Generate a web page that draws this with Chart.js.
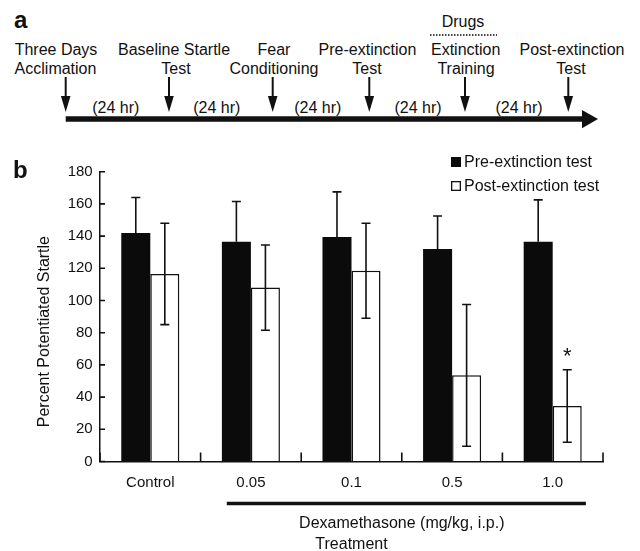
<!DOCTYPE html>
<html>
<head>
<meta charset="utf-8">
<title>Dexamethasone and fear extinction</title>
<script src="https://cdn.jsdelivr.net/npm/chart.js@4.4.1/dist/chart.umd.min.js"></script>
<style>
  html, body { margin: 0; padding: 0; width: 640px; height: 551px; overflow: hidden; background: #fff; }
  #timeline { position: absolute; left: 0; top: 0; }
  #wrap { position: absolute; left: 0; top: 140px; width: 640px; height: 420px; }
</style>
</head>
<body>
<svg id="timeline" width="640" height="140" xmlns="http://www.w3.org/2000/svg"></svg>
<div id="wrap"><canvas id="chart"></canvas></div>
<script>
// ---- panel b data ----
const categories = ['Control', '0.05', '0.1', '0.5', '1.0'];
const preValues = [142, 136.5, 139.5, 132, 136.5];
const preErrors = [22, 25, 28, 20.5, 26];
const postValues = [116.5, 108, 118.5, 53.5, 34.5];
const postErrors = [31.5, 26.5, 29.5, 44, 22.5];
const significant = [false, false, false, false, true];
const yTickValues = [0, 20, 40, 60, 80, 100, 120, 140, 160, 180];

// ---- panel a text ----
const stepTop = ['Three Days', 'Baseline Startle', 'Fear', 'Pre-extinction', 'Extinction', 'Post-extinction'];
const stepBottom = ['Acclimation', 'Test', 'Conditioning', 'Test', 'Training', 'Test'];
const intervalLabels = ['(24 hr)', '(24 hr)', '(24 hr)', '(24 hr)', '(24 hr)'];

// timeline layout (pixels)
const arrowX = [65.7, 169, 272.7, 369.3, 465, 568.3];
const topTextX = [56, 174, 274, 367.5, 465.7, 572];
const bottomTextX = [55.5, 176, 274, 367, 466, 571];
const intervalX = [115.8, 216.8, 317.8, 418, 519];

const FONT = "'Liberation Sans', Arial, Helvetica, sans-serif";
const INK = '#111';

// ---- draw panel a ----
const svg = document.getElementById('timeline');
const NS = 'http://www.w3.org/2000/svg';
function el(name, attrs, text) {
  const node = document.createElementNS(NS, name);
  Object.entries(attrs).forEach(([k, v]) => node.setAttribute(k, v));
  if (text !== undefined) node.textContent = text;
  svg.appendChild(node);
  return node;
}
function label(x, y, text, size, weight, anchor) {
  return el('text', {
    x, y, 'font-family': FONT, 'font-size': size, 'font-weight': weight || 'normal',
    'text-anchor': anchor || 'middle', fill: INK
  }, text);
}

label(14, 28, 'a', 24, 'bold', 'start');
label(463, 26.5, 'Drugs', 16);
el('line', { x1: 430, y1: 35, x2: 497, y2: 35, stroke: '#444', 'stroke-width': 2, 'stroke-dasharray': '1.5 1.5' });

stepTop.forEach((t, i) => label(topTextX[i], 54.5, t, 16));
stepBottom.forEach((t, i) => label(bottomTextX[i], 73.5, t, 16));
intervalLabels.forEach((t, i) => label(intervalX[i], 112.5, t, 16));

arrowX.forEach(x => {
  el('line', { x1: x, y1: 77, x2: x, y2: 99, stroke: INK, 'stroke-width': 2 });
  el('polygon', { points: `${x - 4.8},96 ${x + 4.8},96 ${x},112`, fill: INK });
});
el('line', { x1: arrowX[0], y1: 119, x2: 585, y2: 119, stroke: INK, 'stroke-width': 5.5 });
el('polygon', { points: '582,110 598,119 582,128.3', fill: INK });

// ---- panel b plugins ----
const errorBars = {
  id: 'errorBars',
  afterDatasetsDraw(chart) {
    const { ctx, scales: { y } } = chart;
    chart.data.datasets.forEach((ds, i) => {
      const meta = chart.getDatasetMeta(i);
      meta.data.forEach((bar, j) => {
        const v = ds.data[j], e = ds.errors[j];
        const top = y.getPixelForValue(v + e);
        const bot = ds.upperOnly ? y.getPixelForValue(v) : y.getPixelForValue(v - e);
        ctx.save();
        ctx.strokeStyle = INK;
        ctx.lineWidth = 1.6;
        ctx.beginPath();
        ctx.moveTo(bar.x, top); ctx.lineTo(bar.x, bot);
        ctx.moveTo(bar.x - 4.5, top); ctx.lineTo(bar.x + 4.5, top);
        if (!ds.upperOnly) {
          ctx.moveTo(bar.x - 4.5, bot); ctx.lineTo(bar.x + 4.5, bot);
        }
        ctx.stroke();
        if (ds.marks && ds.marks[j]) {
          ctx.fillStyle = INK;
          ctx.font = `22px ${FONT}`;
          ctx.textAlign = 'center';
          ctx.textBaseline = 'alphabetic';
          ctx.fillText('*', bar.x, top - 6.5);
        }
        ctx.restore();
      });
    });
  }
};

const annotations = {
  id: 'annotations',
  afterDraw(chart) {
    const { ctx, chartArea: area, scales } = chart;
    const x = scales.x, y = scales.y;
    ctx.save();
    ctx.fillStyle = INK;
    ctx.strokeStyle = INK;

    // small tick marks pointing into the plot
    ctx.lineWidth = 1.6;
    ctx.beginPath();
    yTickValues.forEach(v => {
      const py = y.getPixelForValue(v);
      ctx.moveTo(area.left, py);
      ctx.lineTo(area.left + 5, py);
    });
    const cw = x.getPixelForValue(1) - x.getPixelForValue(0);
    for (let i = 0; i <= categories.length; i++) {
      const px = x.getPixelForValue(0) - cw / 2 + i * cw;
      ctx.moveTo(px, area.bottom);
      ctx.lineTo(px, area.bottom - 9);
    }
    ctx.stroke();

    // panel letter
    ctx.font = `bold 24px ${FONT}`;
    ctx.textAlign = 'left';
    ctx.textBaseline = 'alphabetic';
    ctx.fillText('b', 13, area.top + 6.5);

    // y axis title
    ctx.font = `16px ${FONT}`;
    ctx.textAlign = 'center';
    ctx.textBaseline = 'middle';
    ctx.save();
    ctx.translate(45, (area.top + area.bottom) / 2 + 15);
    ctx.rotate(-Math.PI / 2);
    ctx.fillText('Percent Potentiated Startle', 0, 0);
    ctx.restore();

    // legend
    const lx = area.right - 152;
    const ly = area.top - 14.7;
    chart.data.datasets.forEach((ds, i) => {
      const by = ly + i * 24;
      if (ds.borderWidth) {
        ctx.fillStyle = '#fff';
        ctx.fillRect(lx, by, 10, 10);
        ctx.lineWidth = 1.3;
        ctx.strokeRect(lx + 0.65, by + 0.65, 8.7, 8.7);
      } else {
        ctx.fillStyle = ds.backgroundColor;
        ctx.fillRect(lx, by, 10, 10);
      }
      ctx.fillStyle = INK;
      ctx.textAlign = 'left';
      ctx.textBaseline = 'middle';
      ctx.fillText(ds.label, lx + 13, by + 5.5);
    });

    // dexamethasone bracket
    const x1 = x.getPixelForValue(1) - 0.24 * cw;
    const x2 = x.getPixelForValue(4) + 0.33 * cw;
    const by = area.bottom + 42;
    ctx.lineWidth = 3.5;
    ctx.beginPath();
    ctx.moveTo(x1, by); ctx.lineTo(x2, by);
    ctx.stroke();
    ctx.textAlign = 'center';
    ctx.fillText('Dexamethasone (mg/kg, i.p.)', (x.getPixelForValue(1) + x.getPixelForValue(4)) / 2, area.bottom + 62);
    ctx.restore();
  }
};

Chart.defaults.font.family = FONT;
Chart.defaults.color = INK;

new Chart(document.getElementById('chart'), {
  type: 'bar',
  data: {
    labels: categories,
    datasets: [
      {
        label: 'Pre-extinction test',
        data: preValues,
        errors: preErrors,
        upperOnly: true,
        backgroundColor: '#0b0b0b',
        borderWidth: 0
      },
      {
        label: 'Post-extinction test',
        data: postValues,
        errors: postErrors,
        marks: significant,
        backgroundColor: '#ffffff',
        borderColor: INK,
        borderWidth: 1.5
      }
    ]
  },
  options: {
    responsive: true,
    maintainAspectRatio: false,
    animation: false,
    layout: { padding: { left: 0, right: 37, top: 31.7, bottom: 0 } },
    datasets: { bar: { categoryPercentage: 0.577, barPercentage: 1 } },
    plugins: { legend: { display: false }, tooltip: { enabled: false } },
    scales: {
      x: {
        // tick marks are drawn by the annotations plugin; these settings only place the labels
        grid: { offset: true, drawOnChartArea: false, tickLength: -9, color: 'rgba(0,0,0,0)' },
        border: { color: INK, width: 1.5 },
        ticks: { color: INK, font: { size: 15 }, padding: 20.9 },
        title: { display: true, text: 'Treatment', color: INK, font: { size: 16 }, padding: { top: 0, bottom: 5.4 } },
        afterFit: s => { s.height = 98.5; }
      },
      y: {
        min: 0,
        max: 180,
        afterBuildTicks: s => { s.ticks = yTickValues.map(v => ({ value: v })); },
        grid: { drawOnChartArea: false, tickLength: -5, color: 'rgba(0,0,0,0)' },
        border: { color: INK, width: 1.5 },
        ticks: { color: INK, font: { size: 15 }, padding: 12.3 },
        afterFit: s => { s.width = 100; }
      }
    }
  },
  plugins: [errorBars, annotations]
});
</script>
</body>
</html>
